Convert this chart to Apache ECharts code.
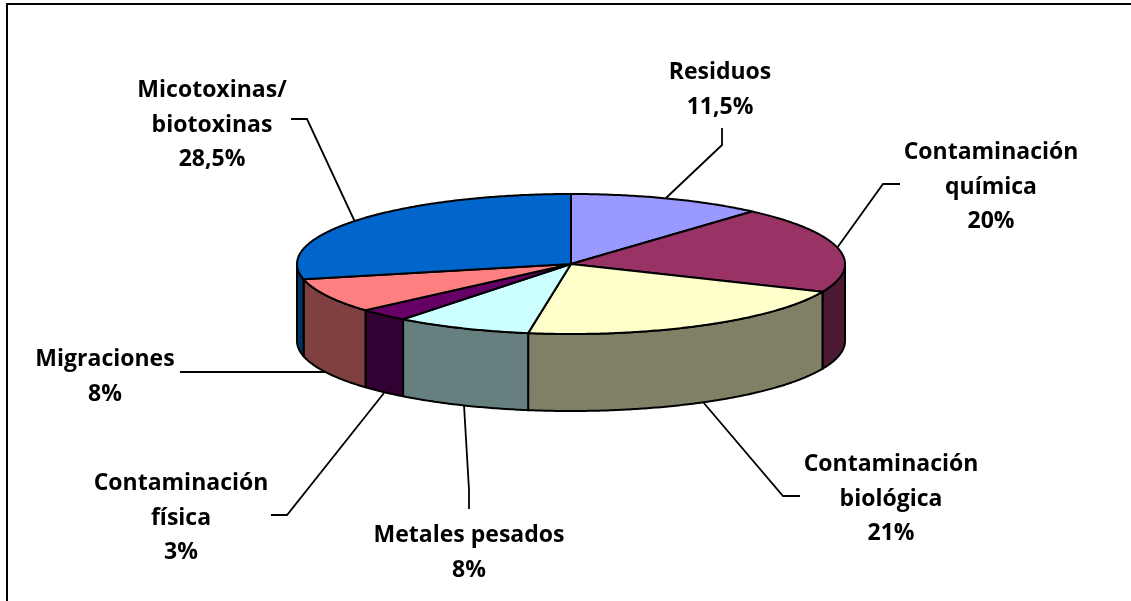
<!DOCTYPE html>
<html><head><meta charset="utf-8">
<style>html,body{margin:0;padding:0;background:#fff}#c{width:1131px;height:601px}</style>
<script src="https://cdn.jsdelivr.net/npm/echarts@6/dist/echarts.min.js"></script>
</head><body><div id="c"></div>
<script>
const categories = ['Residuos','Contaminación\nquímica','Contaminación\nbiológica','Metales pesados','Contaminación\nfísica','Migraciones','Micotoxinas/\nbiotoxinas'];
const values = [11.5,20,21,8,3,8,28.5];
const topColors = ['#9999FF','#993366','#FFFFCC','#CCFFFF','#660066','#FF8080','#0066CC'];
const sideColors = ['#4D4D80','#4D1A33','#808066','#668080','#330033','#804040','#003366'];

// layout of the drawing
const CX=571, CY=264, RX=274, RY=70, DEPTH=77;
const FONT={fontFamily:'"Open Sans"',fontWeight:'bold',fontSize:23,lineHeight:34.5,fill:'#000',align:'center',verticalAlign:'middle'};
const labelCenters=[[720,90],[991,187],[891,499],[469,553],[181,518],[105,377],[212,125]];
const leaders=[
 [[722,128],[722,145],[666,198]],
 [[900,184],[883,184],[837,248]],
 [[800,496],[783,496],[703,402]],
 [[469,509],[469,490],[464,405]],
 [[271,515],[287,515],[384,393]],
 [[180,372],[330,372]],
 [[291,119],[307,119],[355,222]]
];
const total=values.reduce((a,b)=>a+b,0);
const starts=[];values.reduce((a,v,i)=>(starts[i]=a,a+v),0);
const pt=(t,dy)=>[CX+RX*Math.sin(t),CY-RY*Math.cos(t)+(dy||0)];
function arc(a,b,dy){const n=Math.max(2,Math.ceil((b-a)/0.01));const o=[];for(let k=0;k<=n;k++)o.push(pt(a+(b-a)*k/n,dy));return o;}

function renderSlice(params,api){
  const i=params.dataIndex;
  const a=starts[i]/total*2*Math.PI;
  const b=a+api.value(0)/total*2*Math.PI;
  const ch=[];
  const s=Math.max(a,Math.PI/2), e=Math.min(b,1.5*Math.PI);
  if(e>s){
    ch.push({type:'polygon',z2:1,shape:{points:arc(s,e,0).concat(arc(s,e,DEPTH).reverse())},
      style:{fill:sideColors[i],stroke:'#000',lineWidth:2,lineJoin:'round'}});
  }
  ch.push({type:'polygon',z2:2,shape:{points:[[CX,CY]].concat(arc(a,b,0))},
    style:{fill:topColors[i],stroke:'#000',lineWidth:2,lineJoin:'round'}});
  return {type:'group',children:ch};
}
function renderLabel(params,api){
  const i=params.dataIndex;
  const pct=String(api.value(0)).replace('.',',')+'%';
  return {type:'group',children:[
    {type:'polyline',shape:{points:leaders[i]},style:{fill:null,stroke:'#000',lineWidth:1.8}},
    {type:'text',x:labelCenters[i][0],y:labelCenters[i][1],style:Object.assign({text:categories[i]+'\n'+pct},FONT)}
  ]};
}
const chart=echarts.init(document.getElementById('c'),null,{renderer:'canvas'});
chart.setOption({
  animation:false,backgroundColor:'#fff',
  series:[
    {type:'custom',coordinateSystem:'none',renderItem:renderLabel,data:values.map(v=>[v]),z:1,silent:true},
    {type:'custom',coordinateSystem:'none',renderItem:renderSlice,data:values.map(v=>[v]),z:2,silent:true}
  ],
  graphic:[{type:'polyline',shape:{points:[[7,601],[7,4],[1131,4]]},style:{fill:null,stroke:'#000',lineWidth:2}}]
});
</script></body></html>
